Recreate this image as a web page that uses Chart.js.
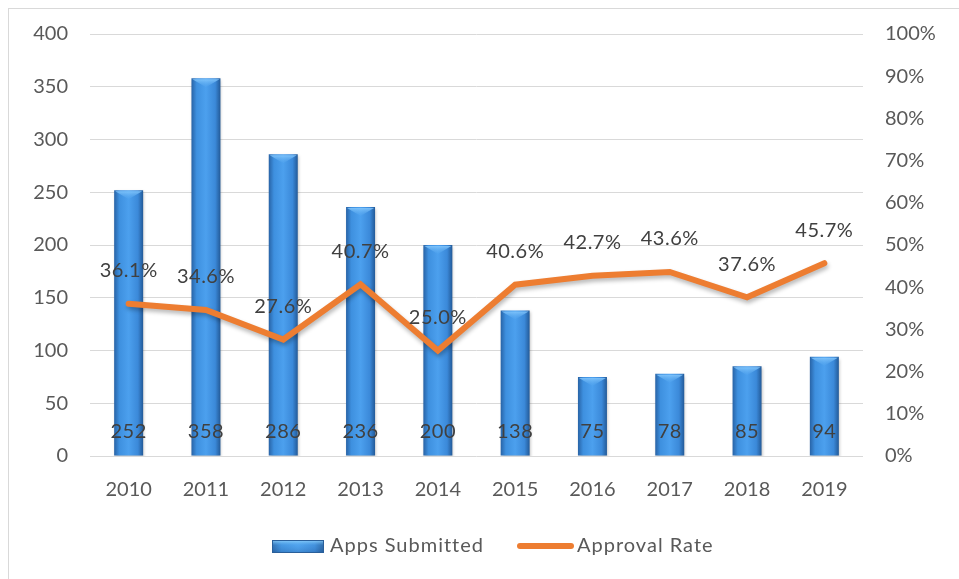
<!DOCTYPE html>
<html><head><meta charset="utf-8">
<script src="https://cdn.jsdelivr.net/npm/chart.js@4/dist/chart.umd.min.js"></script>
<style>
html,body{margin:0;padding:0;background:#fff;}
#wrap{position:relative;width:959px;height:579px;overflow:hidden;}
#frame{position:absolute;left:8px;top:8px;width:1000px;height:1000px;border-left:1px solid #d9d9d9;border-top:1px solid #d9d9d9;}
canvas{position:absolute;left:0;top:0;}
</style></head>
<body><div id="wrap"><div id="frame"></div><canvas id="c" width="959" height="579"></canvas></div>
<script>
const years = ['2010','2011','2012','2013','2014','2015','2016','2017','2018','2019'];
const appsSubmitted = [252, 358, 286, 236, 200, 138, 75, 78, 85, 94];
const approvalRate = [36.1, 34.6, 27.6, 40.7, 25.0, 40.6, 42.7, 43.6, 37.6, 45.7];
const leftTicks = [0, 400, 50];
const rightTicks = [0, 100, 10];
const seriesNames = ['Apps Submitted', 'Approval Rate'];

const FONT = 'Lato, "Open Sans", sans-serif';
const BAR_PCT = 0.375;

function barGradient(ctx, x0, x1) {
  const g = ctx.createLinearGradient(x0, 0, x1, 0);
  g.addColorStop(0, '#2863a6');
  g.addColorStop(0.18, '#3e90df');
  g.addColorStop(0.5, '#4ca0ee');
  g.addColorStop(0.82, '#3b89d9');
  g.addColorStop(1, '#235a98');
  return g;
}

const labelsPlugin = {
  id: 'valLabels',
  beforeDatasetDraw(chart, args) {
    const ctx = chart.ctx;
    ctx.save();
    if (args.meta.type === 'line') {
      ctx.shadowColor = 'rgba(0,0,0,0.28)';
      ctx.shadowBlur = 4; ctx.shadowOffsetX = 1; ctx.shadowOffsetY = 3;
    } else {
      ctx.shadowColor = 'rgba(0,0,0,0.25)';
      ctx.shadowBlur = 3; ctx.shadowOffsetX = 1; ctx.shadowOffsetY = 2;
    }
  },
  afterDatasetDraw(chart, args) {
    chart.ctx.restore();
    if (args.meta.type === 'bar') {
      const ctx = chart.ctx;
      ctx.save();
      args.meta.data.forEach(el => {
        const w = el.width, l = el.x - w/2, t = el.y;
        const g = ctx.createLinearGradient(0, t, 0, t + 10);
        g.addColorStop(0, 'rgba(140,205,255,0.95)');
        g.addColorStop(1, 'rgba(90,170,240,0.0)');
        ctx.fillStyle = g;
        ctx.beginPath();
        ctx.moveTo(l + 1, t + 1); ctx.lineTo(l + w - 1, t + 1); ctx.lineTo(el.x, t + 9); ctx.closePath();
        ctx.fill();
      });
      ctx.restore();
    }
  },
  afterDatasetsDraw(chart) {
    const ctx = chart.ctx;
    ctx.save();
    ctx.font = '20px ' + FONT;
    ctx.fillStyle = '#404040';
    ctx.textAlign = 'center';
    ctx.textBaseline = 'middle';
    const y0 = chart.scales.y.getPixelForValue(0);
    ctx.letterSpacing = '0.5px';
    chart.getDatasetMeta(0).data.forEach((el, i) => {
      ctx.fillText(String(appsSubmitted[i]), el.x, y0 - 24);
    });
    chart.getDatasetMeta(1).data.forEach((el, i) => {
      ctx.fillText(approvalRate[i].toFixed(1) + '%', el.x, el.y - 33);
    });
    ctx.restore();
  },
  afterDraw(chart) {
    const ctx = chart.ctx;
    ctx.save();
    ctx.font = '20px ' + FONT;
    ctx.textBaseline = 'middle';
    const cy = 546;
    ctx.fillStyle = barGradient(ctx, 272, 324);
    ctx.fillRect(272, 540, 52, 13);
    const vg = ctx.createLinearGradient(0, 540, 0, 553);
    vg.addColorStop(0, 'rgba(150,215,255,0.9)'); vg.addColorStop(0.4, 'rgba(100,180,240,0.2)'); vg.addColorStop(1, 'rgba(30,80,140,0.3)');
    ctx.fillStyle = vg; ctx.fillRect(272, 540, 52, 13);
    ctx.strokeStyle = '#2a5f9a'; ctx.lineWidth = 1; ctx.strokeRect(272.5, 540.5, 51, 12);
    ctx.fillStyle = '#595959';
    ctx.letterSpacing = '1px';
    ctx.fillText(seriesNames[0], 330, cy);
    ctx.strokeStyle = '#ED7D31'; ctx.lineWidth = 6; ctx.lineCap = 'round';
    ctx.beginPath(); ctx.moveTo(520, cy); ctx.lineTo(571, cy); ctx.stroke();
    ctx.fillText(seriesNames[1], 577, cy);
    ctx.restore();
  }
};

new Chart(document.getElementById('c'), {
  data: {
    labels: years,
    datasets: [
      {
        type: 'bar', label: seriesNames[0], data: appsSubmitted, yAxisID: 'y', order: 2,
        categoryPercentage: 1, barPercentage: BAR_PCT,
        backgroundColor: (c) => {
          const chart = c.chart, xs = chart.scales && chart.scales.x;
          if (!xs || c.type !== 'data') return '#3d8ddc';
          const cx = xs.getPixelForValue(c.dataIndex);
          const w = xs.width / years.length * BAR_PCT;
          if (!isFinite(cx) || !isFinite(w) || w <= 0) return '#3d8ddc';
          return barGradient(chart.ctx, cx - w/2, cx + w/2);
        },
        borderWidth: 0
      },
      {
        type: 'line', label: seriesNames[1], data: approvalRate, yAxisID: 'y1', order: 1,
        borderColor: '#ED7D31', backgroundColor: '#ED7D31', borderWidth: 6,
        pointRadius: 0, tension: 0, borderCapStyle: 'round', borderJoinStyle: 'miter', fill: false
      }
    ]
  },
  options: {
    responsive: false, animation: false,
    layout: { padding: { left: 0, right: 0, top: 32, bottom: 78 } },
    plugins: { legend: { display: false }, tooltip: { enabled: false } },
    scales: {
      x: {
        grid: { display: false }, border: { display: false },
        ticks: { color: '#595959', font: { family: FONT, size: 20 }, padding: 14, maxRotation: 0 },
        afterFit(s) { s.height = 45; }
      },
      y: {
        position: 'left', min: leftTicks[0], max: leftTicks[1],
        grid: { color: '#d9d9d9', lineWidth: 1, drawTicks: false }, border: { display: false },
        ticks: { stepSize: leftTicks[2], color: '#595959', font: { family: FONT, size: 20 }, padding: 22 },
        afterFit(s) { s.width = 90; }
      },
      y1: {
        position: 'right', min: rightTicks[0], max: rightTicks[1],
        grid: { drawOnChartArea: false, drawTicks: false }, border: { display: false },
        ticks: { stepSize: rightTicks[2], color: '#595959', font: { family: FONT, size: 20 }, padding: 22,
                 callback: v => v + '%' },
        afterFit(s) { s.width = 96; }
      }
    }
  },
  plugins: [labelsPlugin]
});
</script>
</body></html>
